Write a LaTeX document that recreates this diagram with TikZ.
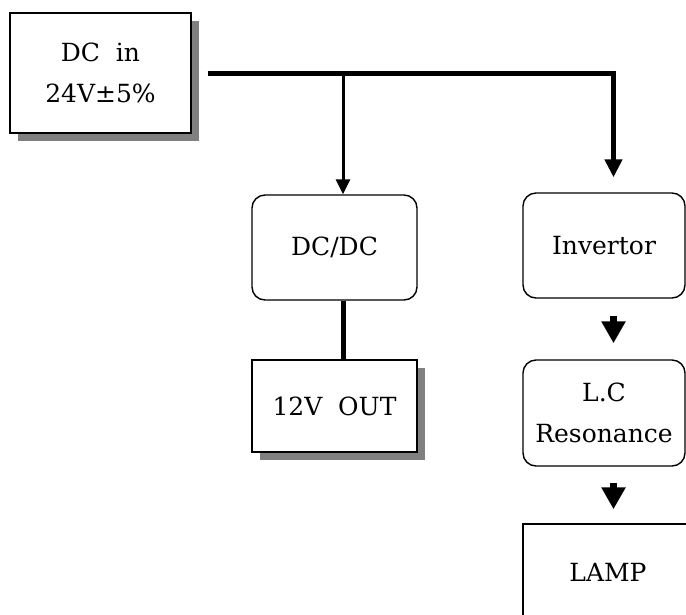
\documentclass[tikz,border=0pt]{standalone}
\usepackage{fontspec}
\setmainfont{DejaVu Serif}
\usetikzlibrary{arrows.meta,shadows,calc}
\tikzset{
  box/.style={draw=black, line width=1.4pt, fill=white, inner sep=0pt, align=center,
    font=\fontsize{25}{41}\selectfont},
  sbox/.style={box, drop shadow={shadow xshift=8pt, shadow yshift=-8pt, fill=black!50, opacity=1}},
  rbox/.style={box, rounded corners=13pt},
  bus/.style={line width=5pt, -{Triangle[width=17pt,length=18pt]}},
  branch/.style={line width=3pt, -{Triangle[width=14pt,length=15pt]}},
  blockarrow/.style={line width=7pt, -{Triangle[width=23pt,length=22pt]}},
  link/.style={line width=5pt}
}
\begin{document}
\begin{tikzpicture}[x=1pt,y=-1pt]
\useasboundingbox (0,0) rectangle (686,614);
\clip (0,0) rectangle (686,614);
\node[sbox, minimum width=181pt, minimum height=120pt] (dcin) at (100.5,73) {DC\ \ in\\24V±5\%};
\node[rbox, minimum width=165pt, minimum height=105pt] (dcdc) at (334.5,247.5) {DC/DC};
\node[sbox, minimum width=165pt, minimum height=92pt] (out) at (334.5,406) {12V\ \ OUT};
\node[rbox, minimum width=162pt, minimum height=105pt] (inv) at (604,245.5) {Invertor};
\node[rbox, minimum width=162pt, minimum height=106pt] (lc) at (604,413) {L.C\\Resonance};
\node[box, minimum width=170pt, minimum height=96pt] (lamp) at (608,572) {LAMP};
\coordinate (j) at (343,73);
\draw[bus, shorten <=16pt, shorten >=15pt] (dcin.east) -| ([xshift=9.5pt]inv.north);
\draw[branch] (j) -- ([xshift=8.5pt]dcdc.north);
\draw[link] ([xshift=8.5pt]dcdc.south) -- ([xshift=8.5pt]out.north);
\draw[blockarrow, shorten <=17pt, shorten >=16pt] ([xshift=9.5pt]inv.south) -- ([xshift=9.5pt]lc.north);
\draw[blockarrow, shorten <=16pt, shorten >=14pt] ([xshift=9.5pt]lc.south) -- ([xshift=5.5pt]lamp.north);
\end{tikzpicture}
\end{document}
